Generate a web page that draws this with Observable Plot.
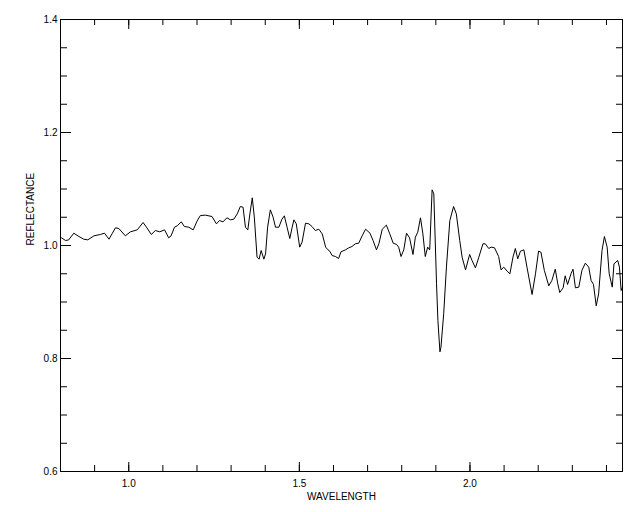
<!DOCTYPE html>
<html>
<head>
<meta charset="utf-8">
<script src="https://cdn.jsdelivr.net/npm/d3@7"></script>
<script src="https://cdn.jsdelivr.net/npm/@observablehq/plot@0.6"></script>
<style>
  html, body { margin: 0; padding: 0; background: #fff; }
  #chart svg { display: block; }
</style>
</head>
<body>
<div id="chart"></div>
<script>
const wavelength = [
  0.803, 0.815, 0.824, 0.839, 0.854, 0.868, 0.880, 0.898, 0.917, 0.929,
  0.942, 0.951, 0.961, 0.971, 0.990, 1.005, 1.025, 1.042, 1.052, 1.066,
  1.078, 1.091, 1.105, 1.117, 1.124, 1.134, 1.142, 1.154, 1.163, 1.176,
  1.189, 1.200, 1.210, 1.225, 1.244, 1.257, 1.266, 1.276, 1.288, 1.298,
  1.308, 1.318, 1.327, 1.335, 1.342, 1.349, 1.355, 1.362, 1.368, 1.376,
  1.382, 1.388, 1.396, 1.401, 1.407, 1.415, 1.423, 1.430, 1.440, 1.449,
  1.456, 1.464, 1.472, 1.479, 1.484, 1.491, 1.501, 1.508, 1.518, 1.528,
  1.537, 1.547, 1.557, 1.567, 1.577, 1.584, 1.589, 1.596, 1.606, 1.615,
  1.622, 1.635, 1.645, 1.654, 1.664, 1.674, 1.684, 1.694, 1.707, 1.716,
  1.726, 1.733, 1.743, 1.755, 1.765, 1.775, 1.785, 1.791, 1.798, 1.806,
  1.814, 1.823, 1.833, 1.840, 1.847, 1.855, 1.862, 1.869, 1.876, 1.882,
  1.889, 1.894, 1.902, 1.906, 1.912, 1.915, 1.923, 1.931, 1.941, 1.952,
  1.960, 1.970, 1.977, 1.987, 1.999, 2.006, 2.016, 2.026, 2.038, 2.045,
  2.055, 2.062, 2.072, 2.084, 2.091, 2.099, 2.109, 2.117, 2.126, 2.133,
  2.140, 2.148, 2.158, 2.167, 2.182, 2.192, 2.201, 2.208, 2.218, 2.231,
  2.240, 2.250, 2.257, 2.263, 2.273, 2.279, 2.286, 2.296, 2.302, 2.309,
  2.319, 2.328, 2.338, 2.348, 2.355, 2.362, 2.370, 2.377, 2.387, 2.394,
  2.402, 2.408, 2.417, 2.422, 2.433, 2.438, 2.443, 2.447
];
const reflectance = [
  1.0136, 1.0088, 1.0100, 1.0218, 1.0159, 1.0112, 1.0100, 1.0171, 1.0195, 1.0218,
  1.0112, 1.0206, 1.0313, 1.0301, 1.0171, 1.0242, 1.0277, 1.0407, 1.0324, 1.0195,
  1.0265, 1.0242, 1.0277, 1.0136, 1.0171, 1.0324, 1.0348, 1.0419, 1.0336, 1.0324,
  1.0277, 1.0431, 1.0531, 1.0537, 1.0513, 1.0383, 1.0442, 1.0419, 1.0490, 1.0454,
  1.0466, 1.0560, 1.0690, 1.0678, 1.0324, 1.0277, 1.0560, 1.0844, 1.0502, 0.9794,
  0.9758, 0.9912, 0.9758, 0.9853, 1.0324, 1.0631, 1.0502, 1.0324, 1.0324, 1.0466,
  1.0525, 1.0324, 1.0124, 1.0324, 1.0454, 1.0383, 0.9971, 1.0059, 1.0395, 1.0383,
  1.0336, 1.0265, 1.0289, 1.0206, 0.9971, 0.9923, 0.9900, 0.9823, 0.9805, 0.9770,
  0.9888, 0.9923, 0.9959, 0.9982, 1.0030, 1.0041, 1.0171, 1.0289, 1.0218, 1.0088,
  0.9923, 1.0030, 1.0289, 1.0360, 1.0206, 1.0041, 1.0018, 0.9971, 0.9805, 0.9923,
  1.0218, 1.0136, 0.9841, 1.0147, 1.0236, 1.0490, 1.0206, 0.9805, 0.9971, 0.9923,
  1.0985, 1.0914, 0.9322, 0.8673, 0.8118, 0.8201, 0.8791, 0.9617, 1.0442, 1.0690,
  1.0560, 1.0088, 0.9794, 0.9569, 0.9841, 0.9735, 0.9605, 0.9794, 1.0030, 1.0030,
  0.9947, 0.9971, 0.9959, 0.9805, 0.9569, 0.9617, 0.9546, 0.9499, 0.9794, 0.9947,
  0.9764, 0.9900, 0.9923, 0.9617, 0.9133, 0.9499, 0.9900, 0.9882, 0.9558, 0.9286,
  0.9381, 0.9581, 0.9333, 0.9168, 0.9251, 0.9463, 0.9310, 0.9499, 0.9581, 0.9251,
  0.9263, 0.9558, 0.9687, 0.9617, 0.9381, 0.9310, 0.8932, 0.9144, 0.9912, 1.0159,
  0.9971, 0.9499, 0.9263, 0.9676, 0.9735, 0.9617, 0.9204, 0.9263
];

const xMajorTicks = [1.0, 1.5, 2.0];
const xMinorTicks = [0.9, 1.0, 1.1, 1.2, 1.3, 1.4, 1.5, 1.6, 1.7, 1.8, 1.9, 2.0, 2.1, 2.2, 2.3, 2.4];
const yMajorTicks = [0.6, 0.8, 1.0, 1.2, 1.4];
const yMinorTicks = [0.6, 0.65, 0.7, 0.75, 0.8, 0.85, 0.9, 0.95, 1.0, 1.05, 1.1, 1.15, 1.2, 1.25, 1.3, 1.35, 1.4];
const xLabel = "WAVELENGTH";
const yLabel = "REFLECTANCE";

const spectrum = wavelength.map((w, i) => ({ wavelength: w, reflectance: reflectance[i] }));

const noText = () => "";

const chart = Plot.plot({
  width: 640,
  height: 512,
  marginLeft: 60,
  marginRight: 18,
  marginTop: 19,
  marginBottom: 41,
  style: { fontFamily: "'Liberation Sans', Arial, sans-serif", fontSize: "10px", color: "#000", background: "#fff" },
  x: { domain: [0.8, 2.447] },
  y: { domain: [0.6, 1.4] },
  marks: [
    Plot.frame({ stroke: "#000", strokeWidth: 1 }),
    // bottom axis: minor + major inward ticks, labels
    Plot.axisX({ anchor: "bottom", ticks: xMinorTicks, tickSize: -6, tickFormat: noText, label: null }),
    Plot.axisX({ anchor: "bottom", ticks: xMajorTicks, tickSize: -9, tickFormat: noText, label: null }),
    Plot.axisX({ anchor: "bottom", ticks: xMajorTicks, tickSize: 0, tickPadding: 8, tickFormat: d3.format(".1f"), label: null }),
    // top axis ticks
    Plot.axisX({ anchor: "top", ticks: xMinorTicks, tickSize: -5, tickFormat: noText, label: null }),
    Plot.axisX({ anchor: "top", ticks: xMajorTicks, tickSize: -9, tickFormat: noText, label: null }),
    // left axis
    Plot.axisY({ anchor: "left", ticks: yMinorTicks, tickSize: -7, tickFormat: noText, label: null }),
    Plot.axisY({ anchor: "left", ticks: yMajorTicks, tickSize: -11, tickFormat: noText, label: null }),
    Plot.axisY({ anchor: "left", ticks: yMajorTicks, tickSize: 0, tickPadding: 3, tickFormat: d3.format(".1f"), label: null }),
    // right axis ticks
    Plot.axisY({ anchor: "right", ticks: yMinorTicks, tickSize: -7, tickFormat: noText, label: null }),
    Plot.axisY({ anchor: "right", ticks: yMajorTicks, tickSize: -11, tickFormat: noText, label: null }),
    // axis titles
    Plot.text([xLabel], { text: d => d, frameAnchor: "bottom", dy: 25, lineAnchor: "middle", fill: "#000" }),
    Plot.text([yLabel], { text: d => d, frameAnchor: "left", dx: -30, rotate: -90, lineAnchor: "middle", fill: "#000" }),
    Plot.line(spectrum, { x: "wavelength", y: "reflectance", stroke: "#000", strokeWidth: 1 })
  ]
});

document.getElementById("chart").appendChild(chart);
</script>
</body>
</html>
